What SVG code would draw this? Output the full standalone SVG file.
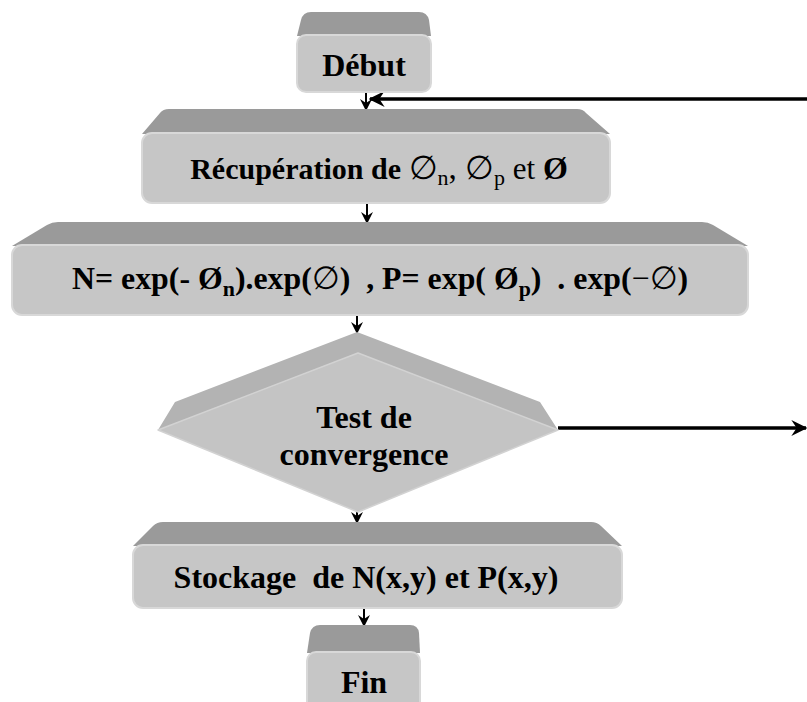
<svg xmlns="http://www.w3.org/2000/svg" width="807" height="702" viewBox="0 0 807 702">
  <defs>
    <style>
      .bevel { fill: #9a9a9a; }
      .face { fill: #c6c6c6; stroke: #d8d8d8; stroke-width: 2; }
      .dbevel { fill: #b3b3b3; }
      .dface { fill: #c4c4c4; stroke: #d2d2d2; stroke-width: 1.5; stroke-linejoin: round; }
      .lbl { font-family: "Liberation Serif", "Times New Roman", serif; font-weight: bold; fill: #000; }
      .math { font-family: "Liberation Serif", "DejaVu Serif", serif; font-weight: normal; }
      .flow { fill: none; stroke: #000; stroke-width: 2; }
      .loop { fill: none; stroke: #000; stroke-width: 3.5; }
    </style>
    <marker id="head" viewBox="0 0 12 12" refX="11" refY="6" markerWidth="12" markerHeight="12" markerUnits="userSpaceOnUse" orient="auto">
      <path d="M0,0 L12,6 L0,12 L4,6 z" fill="#000"/>
    </marker>
    <marker id="headWide" viewBox="0 0 12 12" refX="11" refY="6" markerWidth="16" markerHeight="16" markerUnits="userSpaceOnUse" orient="auto">
      <path d="M0,0 L12,6 L0,12 L4,6 z" fill="#000"/>
    </marker>
  </defs>

  <!-- connectors -->
  <g id="connectors">
    <line class="flow" x1="366" y1="92" x2="366" y2="110" marker-end="url(#head)"/>
    <line class="loop" x1="807" y1="99" x2="370" y2="99" marker-end="url(#headWide)"/>
    <line class="flow" x1="367" y1="203" x2="367" y2="223" marker-end="url(#head)"/>
    <line class="flow" x1="357" y1="315" x2="357" y2="333" marker-end="url(#head)"/>
    <line class="loop" x1="558" y1="428" x2="806" y2="428" marker-end="url(#headWide)"/>
    <line class="flow" x1="357" y1="512" x2="357" y2="523" marker-end="url(#head)"/>
    <line class="flow" x1="364" y1="608" x2="364" y2="626" marker-end="url(#head)"/>
  </g>

  <!-- Début -->
  <g id="debut">
    <path class="bevel" d="M297,36 L301,20 Q303,12 311,12 L419,12 Q427,12 429,20 L431,36 z"/>
    <rect class="face" x="297" y="35" width="134" height="57" rx="9"/>
    <text class="lbl" x="364" y="76" font-size="32" text-anchor="middle">Début</text>
  </g>

  <!-- Récupération -->
  <g id="recuperation">
    <path class="bevel" d="M142,134 L160,113 Q163,109 169,109 L577,109 Q583,109 586,113 L610,134 z"/>
    <rect class="face" x="142" y="133" width="468" height="70" rx="10"/>
    <text class="lbl" x="379" y="179" font-size="30" text-anchor="middle">Récupération de <tspan class="math" font-size="33"> ∅</tspan><tspan class="math" font-size="22" dy="6">n</tspan><tspan class="math" font-size="33" dy="-6">, ∅</tspan><tspan class="math" font-size="22" dy="6">p</tspan><tspan class="math" font-size="31" dy="-6"> et </tspan><tspan font-size="32">Ø</tspan></text>
  </g>

  <!-- N, P computation -->
  <g id="calcul">
    <path class="bevel" d="M12,246 L47,225 Q52,222 58,222 L702,222 Q708,222 713,225 L748,246 z"/>
    <rect class="face" x="12" y="245" width="736" height="70" rx="10"/>
    <text class="lbl" x="72" y="289" font-size="32" textLength="616" lengthAdjust="spacingAndGlyphs">N= exp(- Ø<tspan font-size="22" dy="7">n</tspan><tspan dy="-7">).exp(</tspan><tspan class="math">∅</tspan>)&#160; , P= exp( Ø<tspan font-size="22" dy="7">p</tspan><tspan dy="-7">)&#160; . exp(</tspan><tspan class="math">−∅</tspan>)</text>
  </g>

  <!-- convergence test -->
  <g id="test">
    <path class="dbevel" d="M357,332 L540,402 L558,430 L358,353 L158,430 L175,402 z"/>
    <path class="dface" d="M358,353 L558,430 L358,512 L158,430 z"/>
    <text class="lbl" font-size="32" text-anchor="middle"><tspan x="364" y="428">Test de</tspan><tspan x="364" y="465">convergence</tspan></text>
  </g>

  <!-- storage -->
  <g id="stockage">
    <path class="bevel" d="M133,546 L153,526 Q157,522 163,522 L591,522 Q597,522 601,526 L622,546 z"/>
    <rect class="face" x="133" y="545" width="489" height="63" rx="10"/>
    <text class="lbl" x="366" y="588" font-size="32" text-anchor="middle">Stockage&#160; de N(x,y) et P(x,y)</text>
  </g>

  <!-- Fin -->
  <g id="fin">
    <path class="bevel" d="M307,653 L310,633 Q312,625 320,625 L410,625 Q418,625 419,633 L420,653 z"/>
    <rect class="face" x="307" y="652" width="113" height="60" rx="9"/>
    <text class="lbl" x="364" y="693" font-size="32" text-anchor="middle">Fin</text>
  </g>
</svg>
